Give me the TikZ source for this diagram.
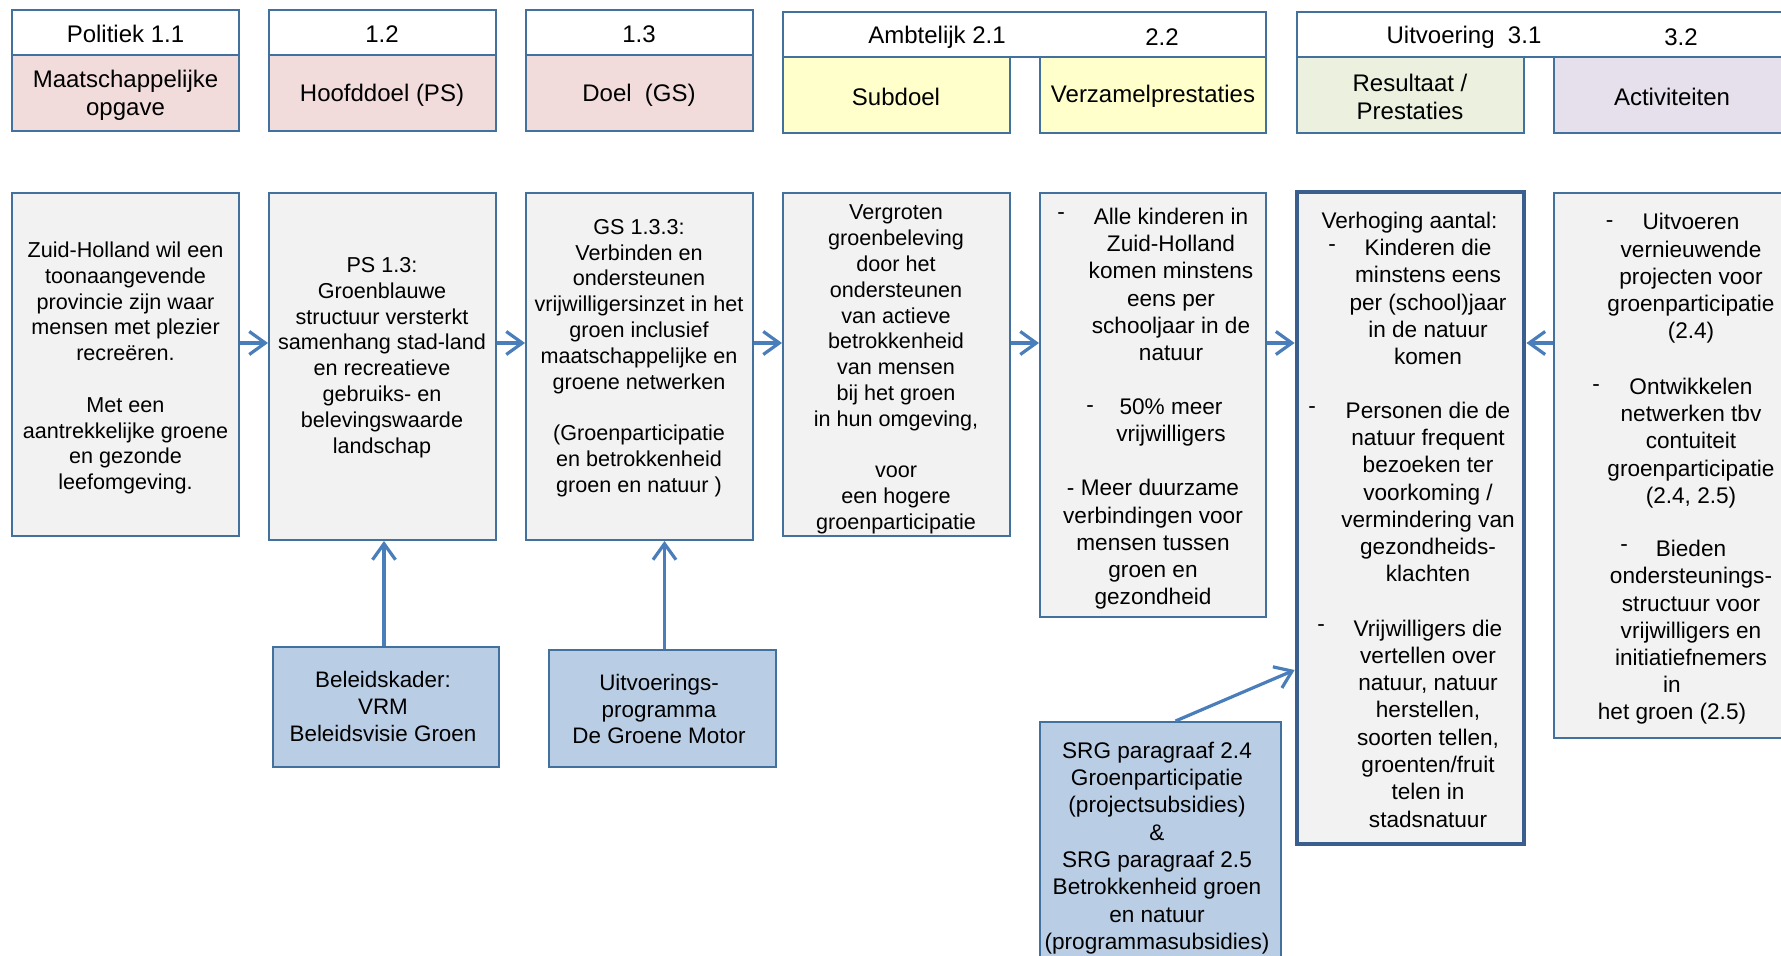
\documentclass[tikz,border=0pt]{standalone}
\usepackage{fontspec}
\setmainfont{Liberation Sans}
\usetikzlibrary{arrows.meta,calc,fit}
\definecolor{bordc}{HTML}{41719C}
\definecolor{thickc}{HTML}{3A5F8F}
\definecolor{arrc}{HTML}{4A7EBB}
\definecolor{boxgray}{HTML}{F2F2F2}
\definecolor{pinkc}{HTML}{F2DCDB}
\definecolor{yelc}{HTML}{FFFFCC}
\definecolor{grnc}{HTML}{EBF1DE}
\definecolor{lavc}{HTML}{E5E0EC}
\definecolor{bluebox}{HTML}{B9CDE5}
\tikzset{
  rect/.style={draw=bordc, line width=1pt, inner sep=0pt},
  hwhite/.style={rect, fill=white},
  mainbox/.style={rect, fill=boxgray},
  thickbox/.style={draw=thickc, line width=2.4pt, fill=boxgray, inner sep=0pt},
  bluefill/.style={rect, fill=bluebox},
  hdr/.style={font=\fontsize{12}{14}\selectfont, align=center, inner sep=0pt},
  txtL/.style={font=\fontsize{10.8}{12.9}\selectfont, align=center, inner sep=0pt},
  txtR/.style={font=\fontsize{11.3}{13.65}\selectfont, align=center, inner sep=0pt},
  txtB/.style={font=\fontsize{11.2}{13.3}\selectfont, align=center, inner sep=0pt},
  arr/.style={draw=arrc, line width=1.6pt, -{Straight Barb[length=8pt,width=11.5pt]}},
}
\begin{document}
\begin{tikzpicture}[x=0.5pt,y=-0.5pt]
\useasboundingbox (0,0) rectangle (1781,956);
\clip (0,0) rectangle (1781,956);
% ---------- header row ----------
\node[hwhite, fit={(12,10)(239,55)}] (h1w) {};
\node[rect, fill=pinkc, fit={(12,55)(239,131)}] (h1c) {};
\node[hwhite, fit={(269,10)(496,55)}] (h2w) {};
\node[rect, fill=pinkc, fit={(269,55)(496,131)}] (h2c) {};
\node[hwhite, fit={(526,10)(753,55)}] (h3w) {};
\node[rect, fill=pinkc, fit={(526,55)(753,131)}] (h3c) {};
\node[hwhite, fit={(783,12)(1266,57)}] (haw) {};
\node[rect, fill=yelc, fit={(783,57)(1010,133)}] (hsub) {};
\node[rect, fill=yelc, fit={(1040,57)(1266,133)}] (hver) {};
\node[hwhite, fit={(1297,12)(1800,57)}] (huw) {};
\node[rect, fill=grnc, fit={(1297,57)(1524,133)}] (hres) {};
\node[rect, fill=lavc, fit={(1554,57)(1800,133)}] (hact) {};
\node[hdr] (t-h1w) at (125.5,33.5) {Politiek 1.1};
\node[hdr] (t-h2w) at (382,34.5) {1.2};
\node[hdr] (t-h3w) at (639,34.5) {1.3};
\node[hdr] (t-haw1) at (937,37) {Ambtelijk 2.1};
\node[hdr] (t-haw2) at (1162,37) {2.2};
\node[hdr] (t-huw1) at (1464,37) {Uitvoering\ \ 3.1};
\node[hdr] (t-huw2) at (1681,37) {3.2};
\node[hdr] (t-h1c) at (125.5,95.5) {Maatschappelijke\\opgave};
\node[hdr] (t-h2c) at (382,95.5) {Hoofddoel (PS)};
\node[hdr] (t-h3c) at (639,95.5) {Doel\ \ (GS)};
\node[hdr] (t-hsub) at (896,96.5) {Subdoel};
\node[hdr] (t-hver) at (1153,96.5) {Verzamelprestaties};
\node[hdr] (t-hres) at (1410,96.5) {Resultaat /\\Prestaties};
\node[hdr] (t-hact) at (1672,96.5) {Activiteiten};
% ---------- main row ----------
\node[mainbox, fit={(12,193)(239,536)}] (b1) {};
\node[mainbox, fit={(269,193)(496,540)}] (b2) {};
\node[mainbox, fit={(526,193)(753,540)}] (b3) {};
\node[mainbox, fit={(783,193)(1010,536)}] (b4) {};
\node[mainbox, fit={(1040,193)(1266,617)}] (b5) {};
\node[thickbox, fit={(1297,192)(1524,844)}] (b6) {};
\node[mainbox, fit={(1554,193)(1800,738)}] (b7) {};
\node[txtL] (t-b1) at (125.5,368) {Zuid-Holland wil een\\toonaangevende\\provincie zijn waar\\mensen met plezier\\recreëren.\\[12.9pt]Met een\\aantrekkelijke groene\\en gezonde\\leefomgeving.};
\node[txtL] (t-b2) at (382,357.5) {PS 1.3:\\Groenblauwe\\structuur versterkt\\samenhang stad-land\\en recreatieve\\gebruiks- en\\belevingswaarde\\landschap};
\node[txtL] (t-b3) at (639,358) {GS 1.3.3:\\Verbinden en\\ondersteunen\\vrijwilligersinzet in het\\groen inclusief\\maatschappelijke en\\groene netwerken\\[12.9pt](Groenparticipatie\\en betrokkenheid\\groen en natuur )};
\node[txtL] (t-b4) at (896,369.5) {Vergroten\\groenbeleving\\door het\\ondersteunen\\van actieve\\betrokkenheid\\van mensen\\bij het groen\\in hun omgeving,\\[12.9pt]voor\\een hogere\\groenparticipatie};
% box 5
\node[txtR] (t-b5a) at (1171,284.5) {Alle kinderen in\\Zuid-Holland\\komen minstens\\eens per\\schooljaar in de\\natuur};
\node[txtR] (d-b5a) at (1061,216.5) {-};
\node[txtR] (t-b5b) at (1171,422.5) {50\% meer\\vrijwilligers};
\node[txtR] (d-b5b) at (1090,409) {-};
\node[txtR] (t-b5c) at (1153,544.5) {- Meer duurzame\\verbindingen voor\\mensen tussen\\groen en\\gezondheid};
% box 6
\node[txtR] (t-b6h) at (1409.5,222.5) {Verhoging aantal:};
\node[txtR] (t-b6a) at (1428,302) {Kinderen die\\minstens eens\\per (school)jaar\\in de natuur\\komen};
\node[txtR] (d-b6a) at (1332,248) {-};
\node[txtR] (t-b6b) at (1428,492) {Personen die de\\natuur frequent\\bezoeken ter\\voorkoming /\\vermindering van\\gezondheids-\\klachten};
\node[txtR] (d-b6b) at (1312,410) {-};
\node[txtR] (t-b6c) at (1428,723.5) {Vrijwilligers die\\vertellen over\\natuur, natuur\\herstellen,\\soorten tellen,\\groenten/fruit\\telen in\\stadsnatuur};
\node[txtR] (d-b6c) at (1321,628) {-};
% box 7
\node[txtR] (t-b7a) at (1691,278.5) {Uitvoeren\\vernieuwende\\projecten voor\\groenparticipatie\\(2.4)};
\node[txtR] (d-b7a) at (1609.5,224) {-};
\node[txtR] (t-b7b) at (1691,443) {Ontwikkelen\\netwerken tbv\\contuiteit\\groenparticipatie\\(2.4, 2.5)};
\node[txtR] (d-b7b) at (1596,388.5) {-};
\node[txtR] (t-b7c) at (1691,603) {Bieden\\ondersteunings-\\structuur voor\\vrijwilligers en\\initiatiefnemers};
\node[txtR] (d-b7c) at (1624,548.5) {-};
\node[txtR] (t-b7d) at (1672,700) {in\\het groen (2.5)};
% ---------- bottom boxes ----------
\node[bluefill, fit={(273,647)(499,767)}] (p1) {};
\node[bluefill, fit={(549,650)(776,767)}] (p2) {};
\node[bluefill, fit={(1040,722)(1281,990)}] (p3) {};
\node[txtB] (t-p1) at (383,706.5) {Beleidskader:\\VRM\\Beleidsvisie Groen};
\node[txtB] (t-p2) at (659,709) {Uitvoerings-\\programma\\De Groene Motor};
\node[txtR] (t-p3) at (1157,848) {SRG paragraaf 2.4\\Groenparticipatie\\(projectsubsidies)\\\&\\SRG paragraaf 2.5\\Betrokkenheid groen\\en natuur\\(programmasubsidies)};
% ---------- connectors ----------
\coordinate (ya) at (0,343);
\coordinate (yb) at (0,670);
\draw[arr] (b1.east |- ya) -- (b2.west |- ya);
\draw[arr] (b2.east |- ya) -- (b3.west |- ya);
\draw[arr] (b3.east |- ya) -- (b4.west |- ya);
\draw[arr] (b4.east |- ya) -- (b5.west |- ya);
\draw[arr] (b5.east |- ya) -- (b6.west |- ya);
\draw[arr] (b7.west |- ya) -- (b6.east |- ya);
\draw[arr] ([xshift=-1pt]p1.north) -- ([xshift=-1pt]p1.north |- b2.south);
\draw[arr] ([xshift=1pt]p2.north) -- ([xshift=1pt]p2.north |- b3.south);
\draw[arr] ([xshift=7.5pt]p3.north) -- (b6.west |- yb);
\end{tikzpicture}
\end{document}
